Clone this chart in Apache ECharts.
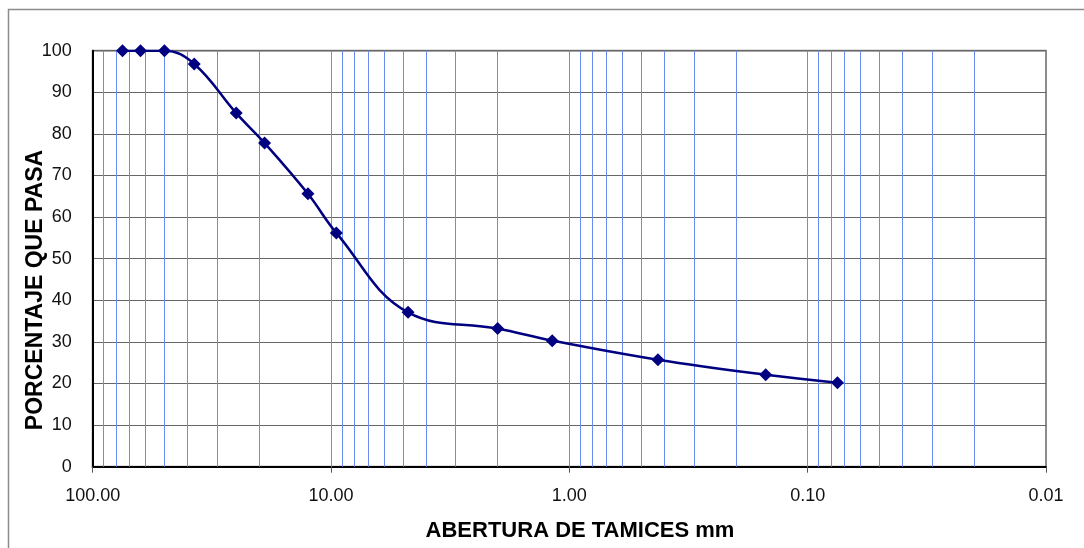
<!DOCTYPE html>
<html>
<head>
<meta charset="utf-8">
<script src="https://cdn.jsdelivr.net/npm/echarts@6/dist/echarts.min.js"></script>
<style>
html,body{margin:0;padding:0;background:#fff;}
#chart{width:1084px;height:548px;}
</style>
</head>
<body>
<div id="chart"></div>
<script>
// Sieve openings (mm) and percentage passing
const sieveOpenings = [75, 63, 50, 37.5, 25, 19, 12.5, 9.5, 4.75, 2.0, 1.18, 0.425, 0.15, 0.075];
const percentPassing = [100, 100, 100, 96.8, 85, 77.8, 65.6, 56.2, 37.1, 33.2, 30.3, 25.7, 22.1, 20.2];
// Axis settings
const xDecades = [10, 1, 0.1, 0.01];
const minorMultipliers = [1, 2, 3, 4, 5, 6, 7, 8, 9];
const xAxisTitle = 'ABERTURA DE TAMICES mm';
const yAxisTitle = 'PORCENTAJE QUE PASA';

const verticalGridValues = [];
xDecades.forEach(function (d) {
  minorMultipliers.forEach(function (m) {
    const v = +(d * m).toPrecision(6);
    if (v > 0.01 && v < 100) verticalGridValues.push(v);
  });
});

const chart = echarts.init(document.getElementById('chart'), null, {renderer: 'canvas'});
const FONT = '"Liberation Sans", Arial, sans-serif';
const GRID_BLUE = '#6a8cf0';

chart.setOption({
  backgroundColor: '#ffffff',
  animation: false,
  grid: {
    left: 92.7, right: 38, top: 50.7, bottom: 81.3,
    show: true, borderColor: '#8c8c8c', borderWidth: 2, backgroundColor: 'transparent'
  },
  xAxis: {
    type: 'log', logBase: 10, min: 0.01, max: 100, inverse: true,
    splitNumber: 4,
    axisLine: {show: true, lineStyle: {color: '#000', width: 2}},
    axisTick: {show: true, length: 6, lineStyle: {color: '#555', width: 1}},
    axisLabel: {
      color: '#111', fontFamily: FONT, fontSize: 18, margin: 20,
      formatter: function (v) { return (+v).toFixed(2); }
    },
    splitLine: {show: false},
    minorTick: {show: false},
    minorSplitLine: {show: false}
  },
  yAxis: {
    type: 'value', min: 0, max: 100, interval: 10,
    axisLine: {show: true, lineStyle: {color: '#000', width: 2}},
    axisTick: {show: false},
    axisLabel: {color: '#111', fontFamily: FONT, fontSize: 18, margin: 21},
    splitLine: {show: true, lineStyle: {color: '#666', width: 1}}
  },
  graphic: [
    {
      type: 'rect', silent: true, z: -10,
      shape: {x: 8.5, y: 9.5, width: 1200, height: 700},
      style: {fill: 'none', stroke: '#8c8c8c', lineWidth: 1.5}
    },
    {
      type: 'text', silent: true,
      x: 580, y: 531,
      style: {
        text: xAxisTitle, fill: '#000', fontFamily: FONT, fontWeight: 'bold',
        fontSize: 22, align: 'center', verticalAlign: 'middle'
      }
    },
    {
      type: 'text', silent: true,
      x: 36, y: 290, rotation: Math.PI / 2,
      style: {
        text: yAxisTitle, fill: '#000', fontFamily: FONT, fontWeight: 'bold',
        fontSize: 23, align: 'center', verticalAlign: 'middle'
      }
    }
  ],
  series: [{
    type: 'line',
    data: sieveOpenings.map(function (x, i) { return [x, percentPassing[i]]; }),
    smooth: 0.4,
    symbol: 'diamond',
    symbolSize: 13,
    lineStyle: {color: '#000080', width: 2.5},
    itemStyle: {color: '#000080'},
    z: 5,
    markLine: {
      silent: true, symbol: ['none', 'none'], animation: false,
      label: {show: false},
      lineStyle: {color: GRID_BLUE, width: 1, type: 'solid', opacity: 1},
      emphasis: {disabled: true},
      data: verticalGridValues.map(function (v) {
        return {xAxis: v, lineStyle: {color: GRID_BLUE, width: 1, type: 'solid'}};
      }),
      z: 1
    }
  }]
});
</script>
</body>
</html>
